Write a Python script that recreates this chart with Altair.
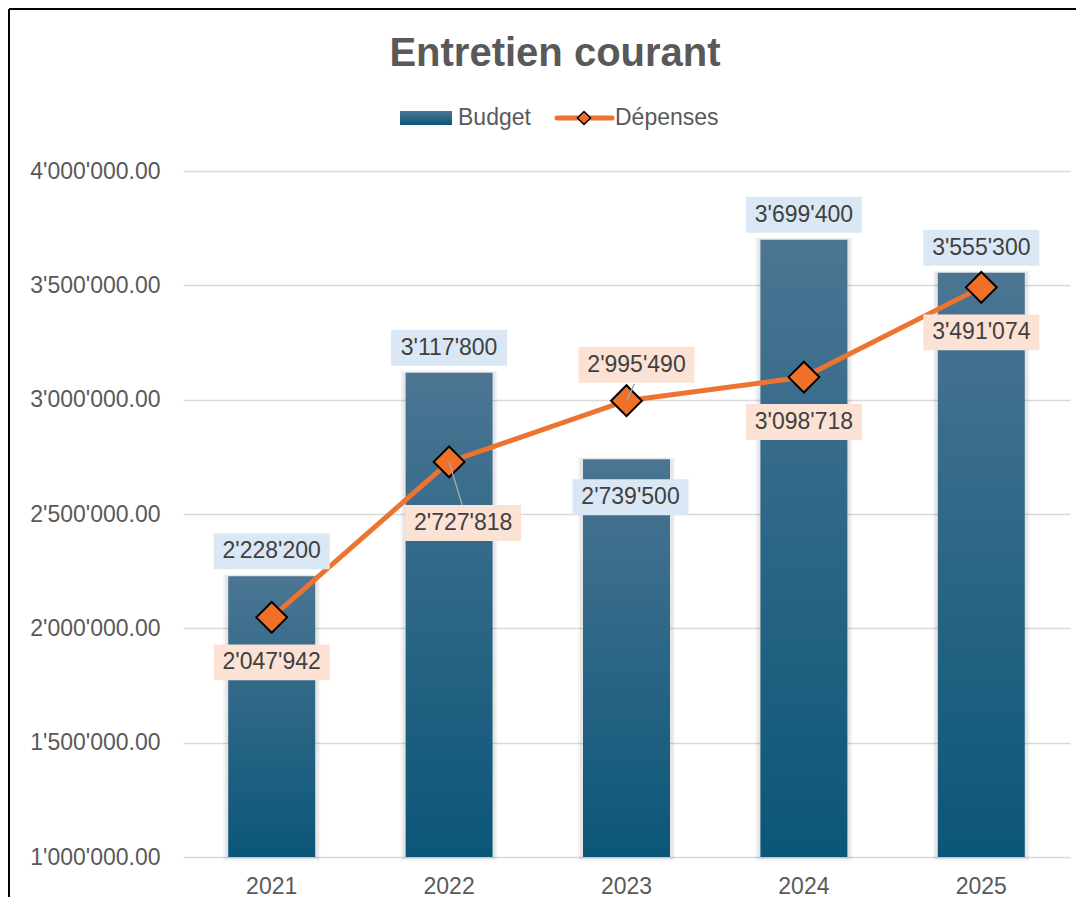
import altair as alt
import pandas as pd

# ---- data ----
years = ["2021", "2022", "2023", "2024", "2025"]
budget = [2228200, 3117800, 2739500, 3699400, 3555300]
depenses = [2047942, 2727818, 2995490, 3098718, 3491074]
y_ticks = [1000000, 1500000, 2000000, 2500000, 3000000, 3500000, 4000000]
title_text = ["Entretien courant"]
series_names = ["Budget", "Dépenses"]

df = pd.DataFrame({"year": years, "budget": budget, "depenses": depenses})
one = pd.DataFrame({"k": [0]})

W, H = 887, 686
FONT = "Liberation Sans"
TXT = "#404040"
AX = "#595959"
ORANGE = "#ED7330"
BLUE_BOX = "#DAE8F5"
PEACH_BOX = "#FBE2D4"
FS = 23

grad = alt.LinearGradient(
    gradient="linear",
    stops=[alt.GradientStop(color="#4B7593", offset=0),
           alt.GradientStop(color="#0B5678", offset=1)],
    x1=0, x2=0, y1=0, y2=1,
)

fmt_b = "replace(replace(format(datum.budget, ',d'), ',', \"'\"), ',', \"'\")"
fmt_d = "replace(replace(format(datum.depenses, ',d'), ',', \"'\"), ',', \"'\")"

xenc = alt.X("year:N", title=None,
             scale=alt.Scale(paddingInner=0.1, paddingOuter=0.05),
             axis=alt.Axis(labelAngle=0, domain=False, ticks=False,
                           labelFont=FONT, labelFontSize=FS, labelColor=AX,
                           labelPadding=18))
yscale = alt.Scale(domain=[1000000, 4000000], zero=False, nice=False)
yaxis = alt.Axis(values=y_ticks, title=None, domain=False, ticks=False,
                 grid=True, gridColor="#D9D9D9", gridWidth=1.5,
                 labelFont=FONT, labelFontSize=FS, labelColor=AX, labelPadding=23,
                 labelExpr="replace(replace(replace(format(datum.value, ',.2f'), ',', \"'\"), ',', \"'\"), ',', \"'\")")

base = alt.Chart(df)

# bar shadow + bars
shadow1 = base.mark_bar(width=97, color="#000000", opacity=0.04, yOffset=-2, y2Offset=4).encode(
    x=xenc, y=alt.Y("budget:Q", scale=yscale, axis=yaxis), y2=alt.datum(1000000))
shadow2 = base.mark_bar(width=93, color="#000000", opacity=0.06, yOffset=-1, y2Offset=2).encode(
    x=xenc, y=alt.Y("budget:Q", scale=yscale, axis=yaxis), y2=alt.datum(1000000))
bars = base.mark_bar(width=87, fill=grad).encode(
    x=xenc, y=alt.Y("budget:Q", scale=yscale, axis=yaxis), y2=alt.datum(1000000))

line = base.mark_line(color=ORANGE, strokeWidth=5).encode(
    x=xenc, y=alt.Y("depenses:Q", scale=yscale))
pts = base.mark_point(shape="diamond", size=950, filled=True, fill="#F07028",
                      stroke="#000000", strokeWidth=2, opacity=1).encode(
    x=xenc, y=alt.Y("depenses:Q", scale=yscale))

BOX = "M-1,-0.31L1,-0.31L1,0.31L-1,0.31Z"


def label(field, fmt, fill, flt, dx, dy):
    src = base.transform_filter(flt).transform_calculate(lab=fmt)
    box = src.mark_point(shape=BOX, size=13456, filled=True, fill=fill, color=fill,
                         strokeWidth=0, opacity=1, xOffset=dx, yOffset=dy).encode(
        x=xenc, y=alt.Y(field + ":Q", scale=yscale))
    txt = src.mark_text(font=FONT, fontSize=FS, color=TXT, align="center",
                        baseline="middle", xOffset=dx, yOffset=dy).encode(
        x=xenc, y=alt.Y(field + ":Q", scale=yscale), text="lab:N")
    return [box, txt]


layers_lab = []
layers_lab += label("budget", fmt_b, BLUE_BOX, "datum.year != '2023'", 0, -25)
layers_lab += label("budget", fmt_b, BLUE_BOX, "datum.year == '2023'", 4, 38)
layers_lab += label("depenses", fmt_d, PEACH_BOX,
                    "datum.year == '2021' || datum.year == '2024' || datum.year == '2025'", 0, 45)
layers_lab += label("depenses", fmt_d, PEACH_BOX, "datum.year == '2022'", 14, 61)
layers_lab += label("depenses", fmt_d, PEACH_BOX, "datum.year == '2023'", 10, -36)

lead1 = base.transform_filter("datum.year == '2022'").mark_rule(
    color="#A6A6A6", strokeWidth=1.5, x2Offset=13, y2Offset=43).encode(
    x=xenc, x2="year:N", y=alt.Y("depenses:Q", scale=yscale), y2="depenses:Q")
lead2 = base.transform_filter("datum.year == '2023'").mark_rule(
    color="#A6A6A6", strokeWidth=1.5, x2Offset=8, y2Offset=-17).encode(
    x=xenc, x2="year:N", y=alt.Y("depenses:Q", scale=yscale), y2="depenses:Q")

# title
tdf = pd.DataFrame({"t": title_text})
title = alt.Chart(tdf).mark_text(font=FONT, fontSize=40, fontWeight="bold", color=AX,
                                 align="center", baseline="alphabetic").encode(
    x=alt.value(372), y=alt.value(-105), text="t:N")

# legend (manual)
ldf_b = pd.DataFrame({"t": [series_names[0]]})
ldf_d = pd.DataFrame({"t": [series_names[1]]})
leg_rect = alt.Chart(one).mark_rect(fill=grad).encode(
    x=alt.value(217), x2=alt.value(269), y=alt.value(-60), y2=alt.value(-46))
leg_t1 = alt.Chart(ldf_b).mark_text(font=FONT, fontSize=FS, color=AX, align="left",
                                    baseline="middle").encode(
    x=alt.value(275), y=alt.value(-53), text="t:N")
leg_line = alt.Chart(one).mark_rule(color=ORANGE, strokeWidth=5, strokeCap="round").encode(
    x=alt.value(374), x2=alt.value(429), y=alt.value(-53))
leg_pt = alt.Chart(one).mark_point(shape="diamond", size=170, filled=True, fill="#F07028",
                                   stroke="#000000", strokeWidth=1.5, opacity=1).encode(
    x=alt.value(401), y=alt.value(-53))
leg_t2 = alt.Chart(ldf_d).mark_text(font=FONT, fontSize=FS, color=AX, align="left",
                                    baseline="middle").encode(
    x=alt.value(432), y=alt.value(-53), text="t:N")

# outer frame
frame_l = alt.Chart(one).mark_rule(color="#000000", strokeWidth=2).encode(
    x=alt.value(-174), y=alt.value(-162), y2=alt.value(H + 40))
frame_t = alt.Chart(one).mark_rule(color="#000000", strokeWidth=2).encode(
    x=alt.value(-174), x2=alt.value(W + 6), y=alt.value(-162))

chart = alt.layer(
    shadow1, shadow2, bars, line, pts, lead1, lead2, *layers_lab,
    title, leg_rect, leg_t1, leg_line, leg_pt, leg_t2, frame_l, frame_t
).properties(
    width=W, height=H,
    autosize=alt.AutoSizeParams(type="none"),
    padding={"left": 175, "top": 163, "right": 6, "bottom": 40},
    background="white",
).configure_view(strokeWidth=0)

chart.save("out.html", embed_options={"renderer": "svg", "actions": False})
